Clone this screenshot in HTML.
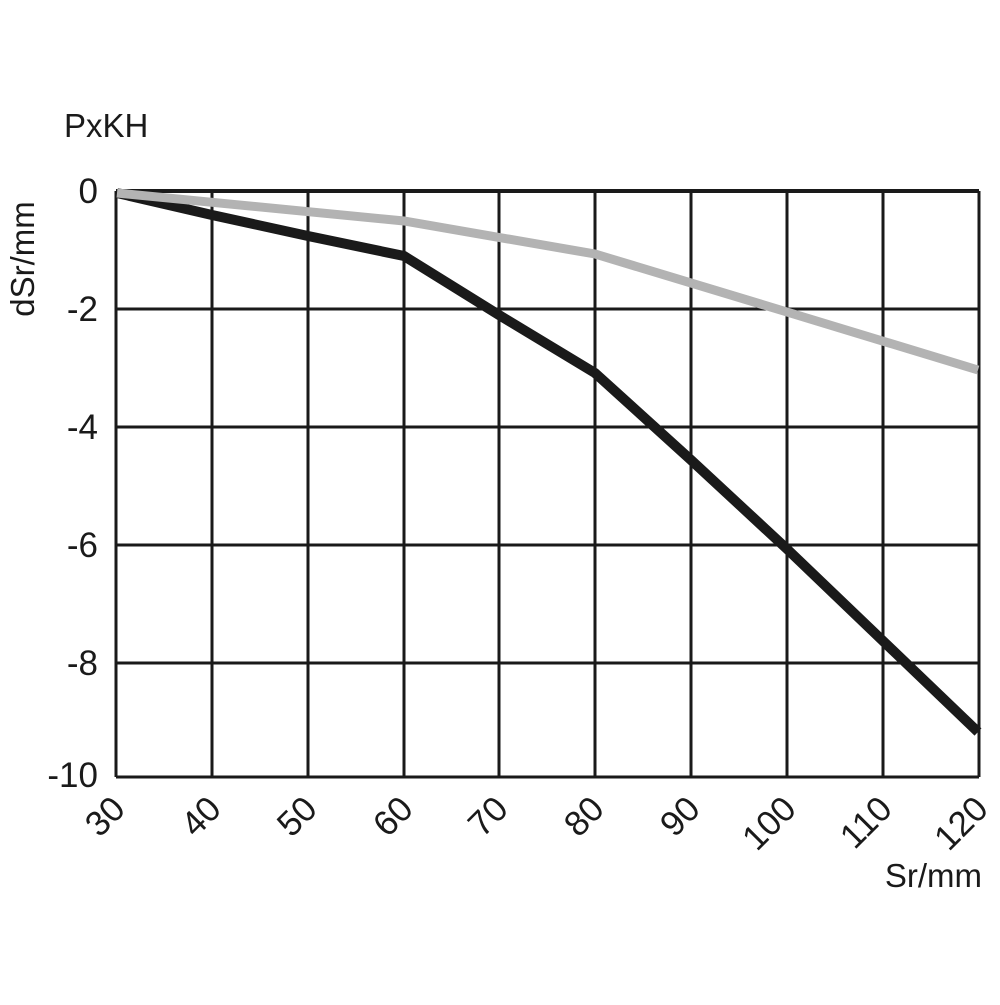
<!DOCTYPE html>
<html><head><style>body{margin:0;background:#fff}</style></head><body>
<svg width="1000" height="1000" xmlns="http://www.w3.org/2000/svg" font-family="Liberation Sans, sans-serif">
<rect width="1000" height="1000" fill="#fff"/>
<g stroke="#1a1a1a" stroke-width="3" fill="none">
<line x1="116" y1="309" x2="979" y2="309"/>
<line x1="116" y1="427" x2="979" y2="427"/>
<line x1="116" y1="545" x2="979" y2="545"/>
<line x1="116" y1="663" x2="979" y2="663"/>
<line x1="116" y1="777" x2="979" y2="777"/>
<line x1="212" y1="191" x2="212" y2="777"/>
<line x1="308" y1="191" x2="308" y2="777"/>
<line x1="404" y1="191" x2="404" y2="777"/>
<line x1="499" y1="191" x2="499" y2="777"/>
<line x1="595" y1="191" x2="595" y2="777"/>
<line x1="691" y1="191" x2="691" y2="777"/>
<line x1="787" y1="191" x2="787" y2="777"/>
<line x1="883" y1="191" x2="883" y2="777"/>
<line x1="979" y1="191" x2="979" y2="777"/>
<line x1="116" y1="191" x2="116" y2="777"/>
<line x1="116" y1="191" x2="979" y2="191" stroke-width="4"/>
</g>
<polyline points="117,193 212,215 308,236 404,256 499,315 595,373 691,460 787,549 882,640 978,732" fill="none" stroke="#1a1a1a" stroke-width="10" stroke-linejoin="miter"/>
<polyline points="117,193 404,221 595,254 787,312 978,370" fill="none" stroke="#b3b3b3" stroke-width="9"/>
<g font-size="35" fill="#1a1a1a">
<text x="64" y="137" font-size="33">PxKH</text>
<g text-anchor="end">
<text x="98" y="203">0</text>
<text x="98" y="321">-2</text>
<text x="98" y="439">-4</text>
<text x="98" y="557">-6</text>
<text x="98" y="675">-8</text>
<text x="98" y="787">-10</text>
</g>
<text transform="translate(34,259) rotate(-90)" text-anchor="middle" font-size="33">dSr/mm</text>
<g text-anchor="end">
<text transform="translate(127,811) rotate(-45)">30</text>
<text transform="translate(223,811) rotate(-45)">40</text>
<text transform="translate(319,811) rotate(-45)">50</text>
<text transform="translate(415,811) rotate(-45)">60</text>
<text transform="translate(510,811) rotate(-45)">70</text>
<text transform="translate(606,811) rotate(-45)">80</text>
<text transform="translate(702,811) rotate(-45)">90</text>
<text transform="translate(798,811) rotate(-45)">100</text>
<text transform="translate(894,811) rotate(-45)">110</text>
<text transform="translate(990,811) rotate(-45)">120</text>
</g>
<text x="982" y="887" text-anchor="end" font-size="33">Sr/mm</text>
</g>
</svg>
</body></html>
